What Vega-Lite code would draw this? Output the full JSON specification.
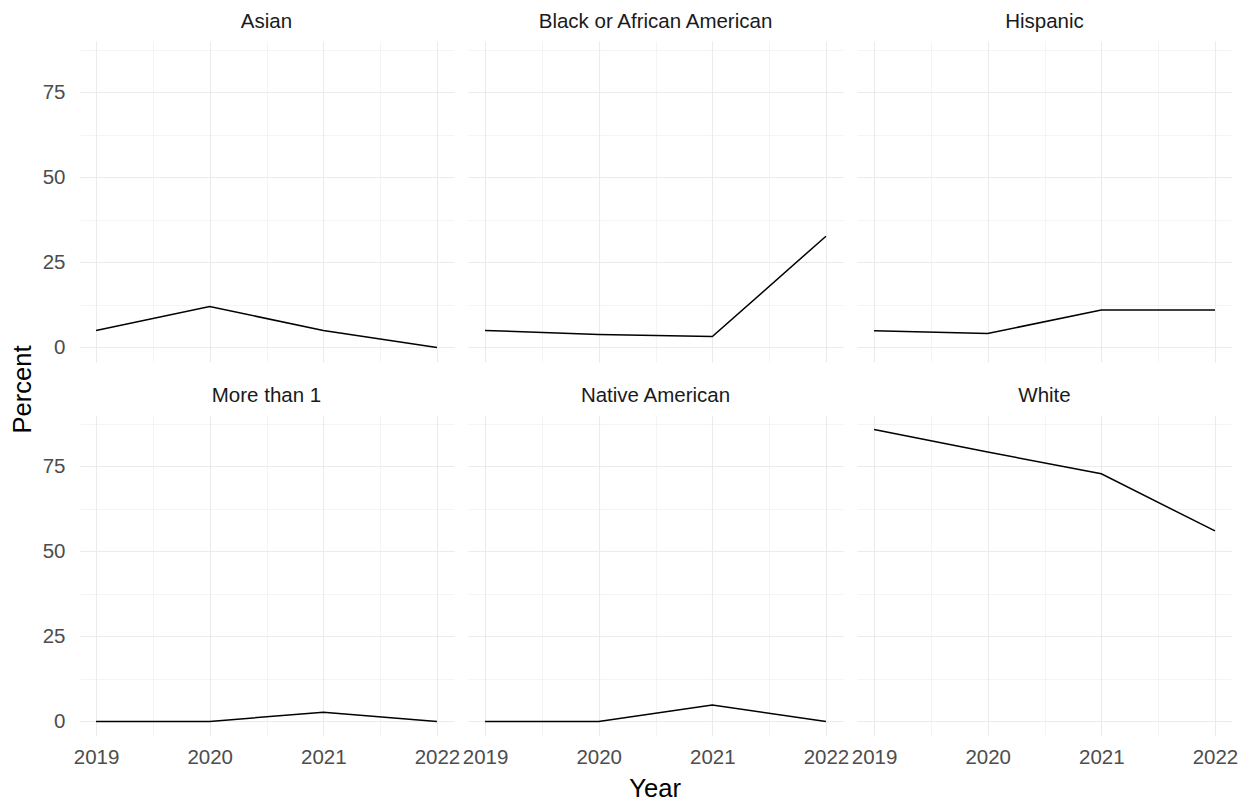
{
  "$schema": "https://vega.github.io/schema/vega-lite/v6.json",
  "background": "white",
  "padding": {"left": 10, "top": 11, "right": 8, "bottom": 2},
  "config": {
    "view": {"stroke": null},
    "font": "Liberation Sans",
    "axis": {"domain": false, "ticks": false, "labelColor": "#4d4d4d", "labelFontSize": 20.5, "gridColor": "#ebebeb"}
  },
  "title": {"text": "Year", "orient": "bottom", "fontSize": 25.6, "fontWeight": "normal", "color": "#000000", "anchor": "middle", "offset": 9, "dx": 31},
  "vconcat": [
    {
      "title": {"text": "Percent", "orient": "left", "fontSize": 25.6, "fontWeight": "normal", "color": "#000000", "anchor": "middle", "offset": 6},
      "data": {
        "values": [
          {"race": "Asian", "year": 2019, "pct": 5.0},
          {"race": "Asian", "year": 2020, "pct": 12.0},
          {"race": "Asian", "year": 2021, "pct": 5.0},
          {"race": "Asian", "year": 2022, "pct": 0.0},
          {"race": "Black or African American", "year": 2019, "pct": 5.0},
          {"race": "Black or African American", "year": 2020, "pct": 3.8},
          {"race": "Black or African American", "year": 2021, "pct": 3.2},
          {"race": "Black or African American", "year": 2022, "pct": 32.7},
          {"race": "Hispanic", "year": 2019, "pct": 4.9},
          {"race": "Hispanic", "year": 2020, "pct": 4.1},
          {"race": "Hispanic", "year": 2021, "pct": 11.0},
          {"race": "Hispanic", "year": 2022, "pct": 11.0},
          {"race": "More than 1", "year": 2019, "pct": 0.0},
          {"race": "More than 1", "year": 2020, "pct": 0.0},
          {"race": "More than 1", "year": 2021, "pct": 2.7},
          {"race": "More than 1", "year": 2022, "pct": 0.0},
          {"race": "Native American", "year": 2019, "pct": 0.0},
          {"race": "Native American", "year": 2020, "pct": 0.0},
          {"race": "Native American", "year": 2021, "pct": 4.8},
          {"race": "Native American", "year": 2022, "pct": 0.0},
          {"race": "White", "year": 2019, "pct": 85.8},
          {"race": "White", "year": 2020, "pct": 79.2},
          {"race": "White", "year": 2021, "pct": 72.8},
          {"race": "White", "year": 2022, "pct": 56.0}
        ]
      },
      "columns": 3,
      "spacing": {"row": 23, "column": 14},
      "facet": {
        "field": "race", "type": "nominal",
        "header": {"title": null, "labelFontSize": 20.5, "labelColor": "#1a1a1a", "labelPadding": 9}
      },
      "spec": {
        "width": 375,
        "height": 321,
        "mark": {"type": "line", "color": "#000000", "strokeWidth": 1.5},
        "encoding": {
          "x": {
            "field": "year", "type": "quantitative",
            "scale": {"domain": [2018.85, 2022.15], "nice": false, "zero": false},
            "axis": {
              "title": null,
              "values": [2019, 2019.5, 2020, 2020.5, 2021, 2021.5, 2022],
              "labelExpr": "datum.value % 1 === 0 ? format(datum.value, 'd') : ''",
              "labelOverlap": false, "labelFlush": false, "labelPadding": 11,
              "gridWidth": {"condition": {"test": "datum.value % 1 === 0", "value": 1.1}, "value": 0.55}
            }
          },
          "y": {
            "field": "pct", "type": "quantitative",
            "scale": {"domain": [-4.29, 90.09], "nice": false, "zero": false},
            "axis": {
              "title": null,
              "values": [0, 12.5, 25, 37.5, 50, 62.5, 75, 87.5],
              "labelExpr": "datum.value % 25 === 0 ? datum.label : ''",
              "labelOverlap": false, "labelFlush": false, "labelPadding": 14,
              "gridWidth": {"condition": {"test": "datum.value % 25 === 0", "value": 1.1}, "value": 0.55}
            }
          }
        }
      }
    }
  ]
}
